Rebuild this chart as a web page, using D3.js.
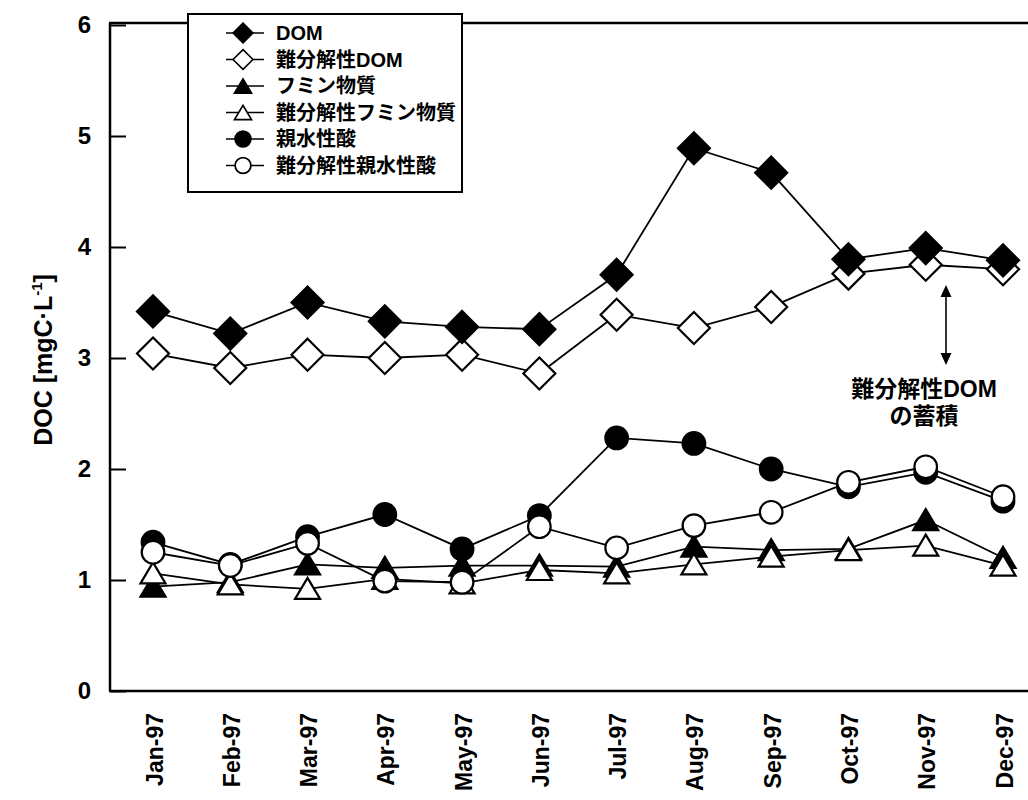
<!DOCTYPE html>
<html>
<head>
<meta charset="utf-8">
<script src="https://cdn.jsdelivr.net/npm/d3@7"></script>
<style>
  html, body { margin: 0; padding: 0; background: #fff; }
  svg { display: block; }
  text { font-family: "Liberation Sans", Arial, "Noto Sans CJK JP", sans-serif; }
</style>
</head>
<body>
<svg id="chart" width="1028" height="800"></svg>
<script>
// Monthly DOC (mgC/L) by fraction, 1997
const months = ["Jan-97","Feb-97","Mar-97","Apr-97","May-97","Jun-97","Jul-97","Aug-97","Sep-97","Oct-97","Nov-97","Dec-97"];
const dom          = [3.42, 3.22, 3.50, 3.33, 3.28, 3.26, 3.75, 4.89, 4.67, 3.89, 3.99, 3.88];
const refractoryDom = [3.04, 2.91, 3.03, 3.00, 3.03, 2.86, 3.39, 3.27, 3.46, 3.76, 3.84, 3.80];
const humic        = [0.94, 0.98, 1.14, 1.11, 1.13, 1.13, 1.12, 1.30, 1.27, 1.28, 1.54, 1.20];
const refractoryHumic = [1.06, 0.96, 0.92, 1.01, 0.97, 1.09, 1.06, 1.14, 1.21, 1.27, 1.31, 1.13];
const hydrophilic  = [1.34, 1.14, 1.39, 1.59, 1.28, 1.58, 2.28, 2.23, 2.00, 1.84, 1.97, 1.71];
const refractoryHydrophilic = [1.25, 1.13, 1.33, 0.99, 0.98, 1.48, 1.29, 1.49, 1.61, 1.88, 2.02, 1.75];
const yTicks = [0, 1, 2, 3, 4, 5, 6];

const series = [
  { name: "難分解性DOM", values: refractoryDom, shape: "diamond", fill: "#fff" },
  { name: "DOM", values: dom, shape: "diamond", fill: "#000" },
  { name: "フミン物質", values: humic, shape: "triangle", fill: "#000" },
  { name: "親水性酸", values: hydrophilic, shape: "circle", fill: "#000" },
  { name: "難分解性フミン物質", values: refractoryHumic, shape: "triangle", fill: "#fff" },
  { name: "難分解性親水性酸", values: refractoryHydrophilic, shape: "circle", fill: "#fff" }
];
const legendOrder = ["DOM", "難分解性DOM", "フミン物質", "難分解性フミン物質", "親水性酸", "難分解性親水性酸"];

const svg = d3.select("#chart");
const plot = { left: 110, right: 1040, top: 23, bottom: 691 };

const x = d3.scalePoint().domain(months).range([153, 1003]);
const y = d3.scaleLinear().domain([0, 6]).range([plot.bottom, plot.top + 2]);

function symbolPath(shape) {
  if (shape === "diamond") return "M0,-16L16,0L0,16L-16,0Z";
  if (shape === "triangle") return "M0,-12L12.5,9L-12.5,9Z";
  return d3.arc()({ innerRadius: 0, outerRadius: 11.3, startAngle: 0, endAngle: 2 * Math.PI });
}
function symbolOffset(shape) { return shape === "triangle" ? 1 : 0; }

// Frame: left, bottom and top edges
svg.append("line").attr("x1", plot.left).attr("x2", plot.left).attr("y1", plot.top).attr("y2", plot.bottom)
  .attr("stroke", "#000").attr("stroke-width", 2.5);
svg.append("line").attr("x1", plot.left - 1).attr("x2", plot.right).attr("y1", plot.bottom).attr("y2", plot.bottom)
  .attr("stroke", "#000").attr("stroke-width", 2.5);
svg.append("line").attr("x1", plot.left - 1).attr("x2", plot.right).attr("y1", plot.top).attr("y2", plot.top)
  .attr("stroke", "#000").attr("stroke-width", 2.5);

// Y axis with inward ticks
const yAxis = d3.axisLeft(y).tickValues(yTicks).tickSize(-16).tickPadding(19).tickFormat(d3.format("d"));
const yg = svg.append("g").attr("transform", `translate(${plot.left},0)`).call(yAxis);
yg.select(".domain").remove();
yg.selectAll(".tick line").attr("stroke-width", 2);
yg.selectAll(".tick text").attr("font-size", 24).attr("font-weight", "bold").attr("fill", "#000");

// X axis labels, rotated
const xAxis = d3.axisBottom(x).tickSize(0).tickPadding(0);
const xg = svg.append("g").attr("transform", `translate(0,${plot.bottom})`).call(xAxis);
xg.select(".domain").remove();
xg.selectAll(".tick text")
  .attr("font-size", 23).attr("font-weight", "bold").attr("fill", "#000")
  .attr("text-anchor", "end")
  .attr("dy", null)
  .attr("transform", "translate(9,22) rotate(-90)");

// Y axis title
const yTitle = svg.append("text")
  .attr("transform", "translate(52,360) rotate(-90)")
  .attr("text-anchor", "middle")
  .attr("font-size", 25).attr("font-weight", "bold").attr("fill", "#000");
yTitle.append("tspan").text("DOC [mgC·L");
yTitle.append("tspan").attr("dy", -10).attr("font-size", 15).text("-1");
yTitle.append("tspan").attr("dy", 10).text("]");

// Series lines and markers
const line = d3.line().x((d, i) => x(months[i])).y(d => y(d));
series.forEach(s => {
  const g = svg.append("g");
  g.append("path").attr("d", line(s.values)).attr("fill", "none").attr("stroke", "#000").attr("stroke-width", 1.8);
  g.selectAll("path.mk").data(s.values).join("path").attr("class", "mk")
    .attr("d", symbolPath(s.shape))
    .attr("transform", (d, i) => `translate(${x(months[i])},${y(d) + symbolOffset(s.shape)})`)
    .attr("fill", s.fill).attr("stroke", "#000").attr("stroke-width", 2.2);
});

// Annotation: accumulation of refractory DOM
const ax = 946, ay1 = 285, ay2 = 365;
svg.append("line").attr("x1", ax).attr("x2", ax).attr("y1", ay1 + 8).attr("y2", ay2 - 8)
  .attr("stroke", "#000").attr("stroke-width", 1.6);
svg.append("path").attr("d", `M${ax},${ay1}L${ax - 5.5},${ay1 + 12}L${ax + 5.5},${ay1 + 12}Z`).attr("fill", "#000");
svg.append("path").attr("d", `M${ax},${ay2}L${ax - 5.5},${ay2 - 12}L${ax + 5.5},${ay2 - 12}Z`).attr("fill", "#000");
svg.append("text").attr("x", 924).attr("y", 397).attr("text-anchor", "middle")
  .attr("font-size", 23).attr("font-weight", "bold").text("難分解性DOM");
svg.append("text").attr("x", 924).attr("y", 424).attr("text-anchor", "middle")
  .attr("font-size", 23).attr("font-weight", "bold").text("の蓄積");

// Legend box
const legend = svg.append("g");
legend.append("rect").attr("x", 188).attr("y", 14).attr("width", 274).attr("height", 178)
  .attr("fill", "#fff").attr("stroke", "#000").attr("stroke-width", 2);
legendOrder.forEach((name, i) => {
  const s = series.find(d => d.name === name);
  const ly = 33 + i * 26.5;
  legend.append("line").attr("x1", 226).attr("x2", 264).attr("y1", ly).attr("y2", ly)
    .attr("stroke", "#000").attr("stroke-width", 1.6);
  const scale = s.shape === "circle" ? 0.7 : (s.shape === "diamond" ? 0.62 : 0.68);
  legend.append("path").attr("d", symbolPath(s.shape))
    .attr("transform", `translate(243,${ly + (s.shape === "triangle" ? 1 : 0)}) scale(${scale})`)
    .attr("fill", s.fill).attr("stroke", "#000").attr("stroke-width", 2.5);
  legend.append("text").attr("x", 276).attr("y", ly + 7).attr("font-size", 20).attr("font-weight", 600)
    .attr("fill", "#000").text(name);
});
</script>
</body>
</html>
